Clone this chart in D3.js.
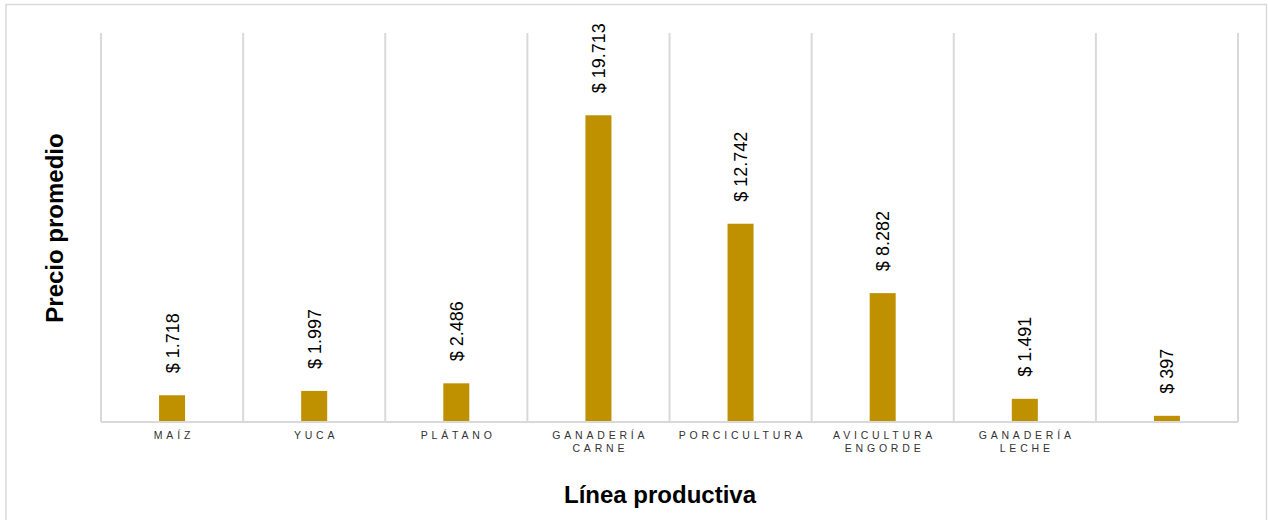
<!DOCTYPE html>
<html>
<head>
<meta charset="utf-8">
<script src="https://cdn.jsdelivr.net/npm/d3@7/dist/d3.min.js"></script>
<style>
  html, body { margin: 0; padding: 0; background: #fff; }
  svg { display: block; font-family: "Liberation Sans", Arial, sans-serif; }
</style>
</head>
<body>
<svg id="chart" width="1268" height="520"></svg>
<script>
// Precio promedio por línea productiva
const categories = ["MAÍZ", "YUCA", "PLÁTANO", "GANADERÍA CARNE", "PORCICULTURA", "AVICULTURA ENGORDE", "GANADERÍA LECHE", ""];
const categoryLines = [["MAÍZ"], ["YUCA"], ["PLÁTANO"], ["GANADERÍA", "CARNE"], ["PORCICULTURA"], ["AVICULTURA", "ENGORDE"], ["GANADERÍA", "LECHE"], [""]];
const prices = [1718, 1997, 2486, 19713, 12742, 8282, 1491, 397];
const yDomain = [0, 25000];

const W = 1268, H = 520;
const plot = { left: 101, right: 1238, top: 33, bottom: 422 };
const gridColor = "#d9d9d9";
const barColor = "#bf9000";

const svg = d3.select("#chart");

// outer frame
svg.append("rect")
  .attr("x", 6).attr("y", 4.5)
  .attr("width", W - 6 - 1.5).attr("height", H)
  .attr("fill", "none").attr("stroke", gridColor).attr("stroke-width", 1.5);

const idx = categories.map((d, i) => i);
const padInner = 0.817;
const x = d3.scaleBand().domain(idx)
  .range([plot.left, plot.right])
  .paddingInner(padInner).paddingOuter(padInner / 2);
const edges = d3.scaleLinear().domain([0, categories.length]).range([plot.left, plot.right]);
const y = d3.scaleLinear().domain(yDomain).range([plot.bottom, plot.top]);

// vertical separators between categories
svg.append("g").selectAll("line")
  .data(d3.range(categories.length + 1))
  .join("line")
  .attr("x1", d => edges(d)).attr("x2", d => edges(d))
  .attr("y1", plot.top).attr("y2", plot.bottom)
  .attr("stroke", gridColor).attr("stroke-width", 2);

// bars
svg.append("g").selectAll("rect")
  .data(prices)
  .join("rect")
  .attr("x", (d, i) => x(i))
  .attr("width", x.bandwidth())
  .attr("y", d => y(d))
  .attr("height", d => y(0) - y(d))
  .attr("fill", barColor);

// value labels, rotated
const loc = d3.formatLocale({ decimal: ",", thousands: ".", grouping: [3], currency: ["$ ", ""] });
const fmt = loc.format(",d");
svg.append("g").selectAll("text")
  .data(prices)
  .join("text")
  .attr("transform", (d, i) => `translate(${x(i) + x.bandwidth() / 2},${y(d) - 22}) rotate(-90)`)
  .attr("dy", "0.36em")
  .attr("text-anchor", "start")
  .attr("font-size", 18)
  .attr("fill", "#000")
  .text(d => "$ " + fmt(d));

// x axis
const xAxis = svg.append("g")
  .attr("transform", `translate(0,${plot.bottom})`)
  .call(d3.axisBottom(x).tickSize(0).tickFormat(() => ""));
xAxis.select(".domain").attr("stroke", gridColor).attr("stroke-width", 2)
  .attr("d", `M${plot.left},0H${plot.right}`);

const spacing = 3.8;
xAxis.selectAll(".tick text").remove();
xAxis.selectAll(".tick").append("text")
  .attr("font-size", 10.5)
  .attr("fill", "#333")
  .attr("text-anchor", "middle")
  .attr("letter-spacing", spacing)
  .each(function (d) {
    const t = d3.select(this);
    categoryLines[d].forEach((line, k) => {
      t.append("tspan")
        .attr("x", spacing / 2)
        .attr("y", 16.5 + k * 13)
        .text(line);
    });
  });

// axis titles
svg.append("text")
  .attr("transform", `translate(63,228) rotate(-90)`)
  .attr("text-anchor", "middle")
  .attr("font-size", 24).attr("font-weight", "bold")
  .text("Precio promedio");

svg.append("text")
  .attr("x", 660).attr("y", 503)
  .attr("text-anchor", "middle")
  .attr("font-size", 24).attr("font-weight", "bold")
  .text("Línea productiva");
</script>
</body>
</html>
